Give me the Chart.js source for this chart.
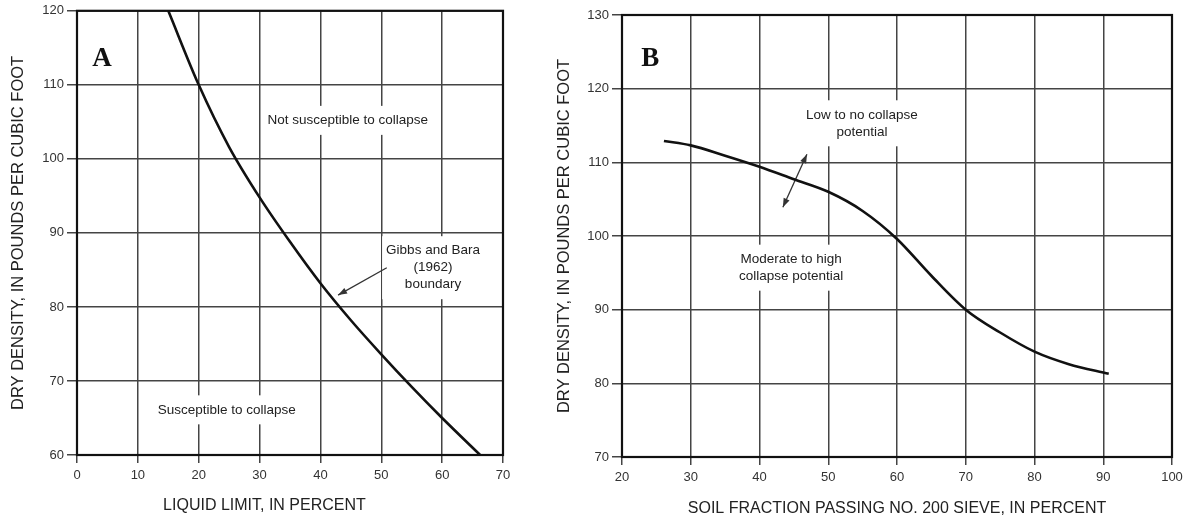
<!DOCTYPE html>
<html>
<head>
<meta charset="utf-8">
<script src="https://cdn.jsdelivr.net/npm/chart.js@4.4.1/dist/chart.umd.min.js"></script>
<style>
  body { margin: 0; background: #fff; }
  #wrap { position: relative; width: 1190px; height: 518px; }
  #chartA { position: absolute; left: 0; top: 0; }
  #chartB { position: absolute; left: 545px; top: 0; }
</style>
</head>
<body>
<div id="wrap">
  <canvas id="chartA" width="545" height="518"></canvas>
  <canvas id="chartB" width="645" height="518"></canvas>
</div>
<script>
// panel A - Gibbs and Bara boundary
const limitA = [15, 20, 25, 30, 35, 40, 45, 50, 55, 60, 66.5];
const densityA = [120, 110, 101.6, 94.8, 88.8, 83.2, 78.2, 73.6, 69.2, 65, 59.8];
const notesA = [
  { text: ["Not susceptible to collapse"], x: 44.5, y: 105.2 },
  { text: ["Susceptible to collapse"], x: 24.6, y: 66.1 },
  { text: ["Gibbs and Bara", "(1962)", "boundary"], x: 58.5, y: 85.3 },
];
const arrowsA = [{ from: [50.9, 85.3], to: [42.9, 81.6], both: false }];

// panel B - fines content
const fractionB = [26.1, 30, 35, 40, 45, 50, 55, 60, 65, 70, 75, 80, 85, 90.8];
const densityB = [112.9, 112.3, 110.9, 109.4, 107.7, 106, 103.4, 99.6, 94.6, 90, 86.9, 84.3, 82.6, 81.3];
const notesB = [
  { text: ["Low to no collapse", "potential"], x: 54.9, y: 115.3 },
  { text: ["Moderate to high", "collapse potential"], x: 44.6, y: 95.7 },
];
const arrowsB = [{ from: [43.4, 103.9], to: [46.9, 111.1], both: true }];

const SANS = "'Liberation Sans', Arial, sans-serif";
Chart.defaults.font.family = SANS;
Chart.defaults.font.size = 13;
Chart.defaults.color = "#333";
Chart.defaults.plugins.legend.display = false;
Chart.defaults.plugins.tooltip.enabled = false;
Chart.defaults.animation = false;

function arrowHead(ctx, fx, fy, tx, ty) {
  const a = Math.atan2(ty - fy, tx - fx);
  const len = 9, wid = 3.2;
  ctx.beginPath();
  ctx.moveTo(tx, ty);
  ctx.lineTo(tx - len * Math.cos(a) + wid * Math.sin(a), ty - len * Math.sin(a) - wid * Math.cos(a));
  ctx.lineTo(tx - len * Math.cos(a) - wid * Math.sin(a), ty - len * Math.sin(a) + wid * Math.cos(a));
  ctx.closePath();
  ctx.fill();
}

const sketch = {
  id: "sketch",
  beforeDatasetsDraw(chart, args, opts) {
    const ctx = chart.ctx;
    const sx = chart.scales.x, sy = chart.scales.y;
    ctx.save();
    ctx.font = "13.5px " + SANS;
    ctx.textAlign = "center";
    ctx.textBaseline = "middle";
    opts.notes.forEach((n) => {
      const cx = sx.getPixelForValue(n.x), cy = sy.getPixelForValue(n.y);
      const w = Math.max(...n.text.map((t) => ctx.measureText(t).width));
      const h = n.text.length * 17;
      ctx.fillStyle = "#fff";
      ctx.fillRect(cx - w / 2 - 4, cy - h / 2 - 6, w + 8, h + 12);
      ctx.fillStyle = "#222";
      n.text.forEach((t, i) => ctx.fillText(t, cx, cy + (i - (n.text.length - 1) / 2) * 17));
    });
    ctx.strokeStyle = "#333";
    ctx.fillStyle = "#333";
    ctx.lineWidth = 1.3;
    opts.arrows.forEach((a) => {
      const fx = sx.getPixelForValue(a.from[0]), fy = sy.getPixelForValue(a.from[1]);
      const tx = sx.getPixelForValue(a.to[0]), ty = sy.getPixelForValue(a.to[1]);
      ctx.beginPath();
      ctx.moveTo(fx, fy);
      ctx.lineTo(tx, ty);
      ctx.stroke();
      arrowHead(ctx, fx, fy, tx, ty);
      if (a.both) arrowHead(ctx, tx, ty, fx, fy);
    });
    ctx.restore();
  },
  afterDatasetsDraw(chart, args, opts) {
    const ctx = chart.ctx;
    const area = chart.chartArea;
    const sx = chart.scales.x, sy = chart.scales.y;
    ctx.save();
    ctx.strokeStyle = "#111";
    ctx.lineWidth = 2.2;
    ctx.strokeRect(area.left, area.top, area.right - area.left, area.bottom - area.top);
    // panel letter
    ctx.fillStyle = "#111";
    ctx.font = "bold 27px 'Liberation Serif', 'Times New Roman', serif";
    ctx.textAlign = "center";
    ctx.textBaseline = "middle";
    ctx.fillText(opts.letter.text, sx.getPixelForValue(opts.letter.x), sy.getPixelForValue(opts.letter.y));
    // x axis title
    ctx.fillStyle = "#222";
    ctx.font = "16px " + SANS;
    ctx.fillText(opts.xTitle.text, area.left + (area.right - area.left) * opts.xTitle.frac, opts.xTitle.y);
    ctx.restore();
  },
};

function makeChart(id, xs, ys, o) {
  return new Chart(document.getElementById(id), {
    type: "scatter",
    data: {
      datasets: [
        {
          data: xs.map((v, i) => ({ x: v, y: ys[i] })),
          showLine: true,
          borderColor: "#111",
          borderWidth: 2.6,
          pointRadius: 0,
          cubicInterpolationMode: "monotone",
        },
      ],
    },
    options: {
      responsive: false,
      layout: { padding: { top: o.top, right: o.right, left: 0, bottom: 0 } },
      scales: {
        x: {
          min: o.xMin,
          max: o.xMax,
          afterFit: (s) => { s.height = o.xHeight; },
          ticks: { stepSize: 10, padding: 5, maxRotation: 0 },
          grid: { color: "#444", lineWidth: 1.5, tickLength: 8, tickColor: "#444" },
          border: { display: false },
        },
        y: {
          min: o.yMin,
          max: o.yMax,
          afterFit: (s) => { s.width = 77; },
          ticks: { stepSize: 10, padding: 3 },
          grid: { color: "#444", lineWidth: 1.5, tickLength: 10, tickColor: "#444" },
          border: { display: false },
          title: {
            display: true,
            text: "DRY DENSITY, IN POUNDS PER CUBIC FOOT",
            color: "#222",
            font: { size: 16.5 },
            padding: { top: o.yTitlePad, bottom: 0 },
          },
        },
      },
      plugins: {
        sketch: { notes: o.notes, arrows: o.arrows, letter: o.letter, xTitle: o.xTitle },
      },
    },
    plugins: [sketch],
  });
}

makeChart("chartA", limitA, densityA, {
  xMin: 0, xMax: 70, yMin: 60, yMax: 120,
  top: 10, right: 42, xHeight: 63, yTitlePad: 9,
  notes: notesA, arrows: arrowsA,
  letter: { text: "A", x: 4.1, y: 113.5 },
  xTitle: { text: "LIQUID LIMIT, IN PERCENT", frac: 0.44, y: 506 },
});

makeChart("chartB", fractionB, densityB, {
  xMin: 20, xMax: 100, yMin: 70, yMax: 130,
  top: 15, right: 18, xHeight: 61, yTitlePad: 10,
  notes: notesB, arrows: arrowsB,
  letter: { text: "B", x: 24.1, y: 124 },
  xTitle: { text: "SOIL FRACTION PASSING NO. 200 SIEVE, IN PERCENT", frac: 0.5, y: 509 },
});
</script>
</body>
</html>
